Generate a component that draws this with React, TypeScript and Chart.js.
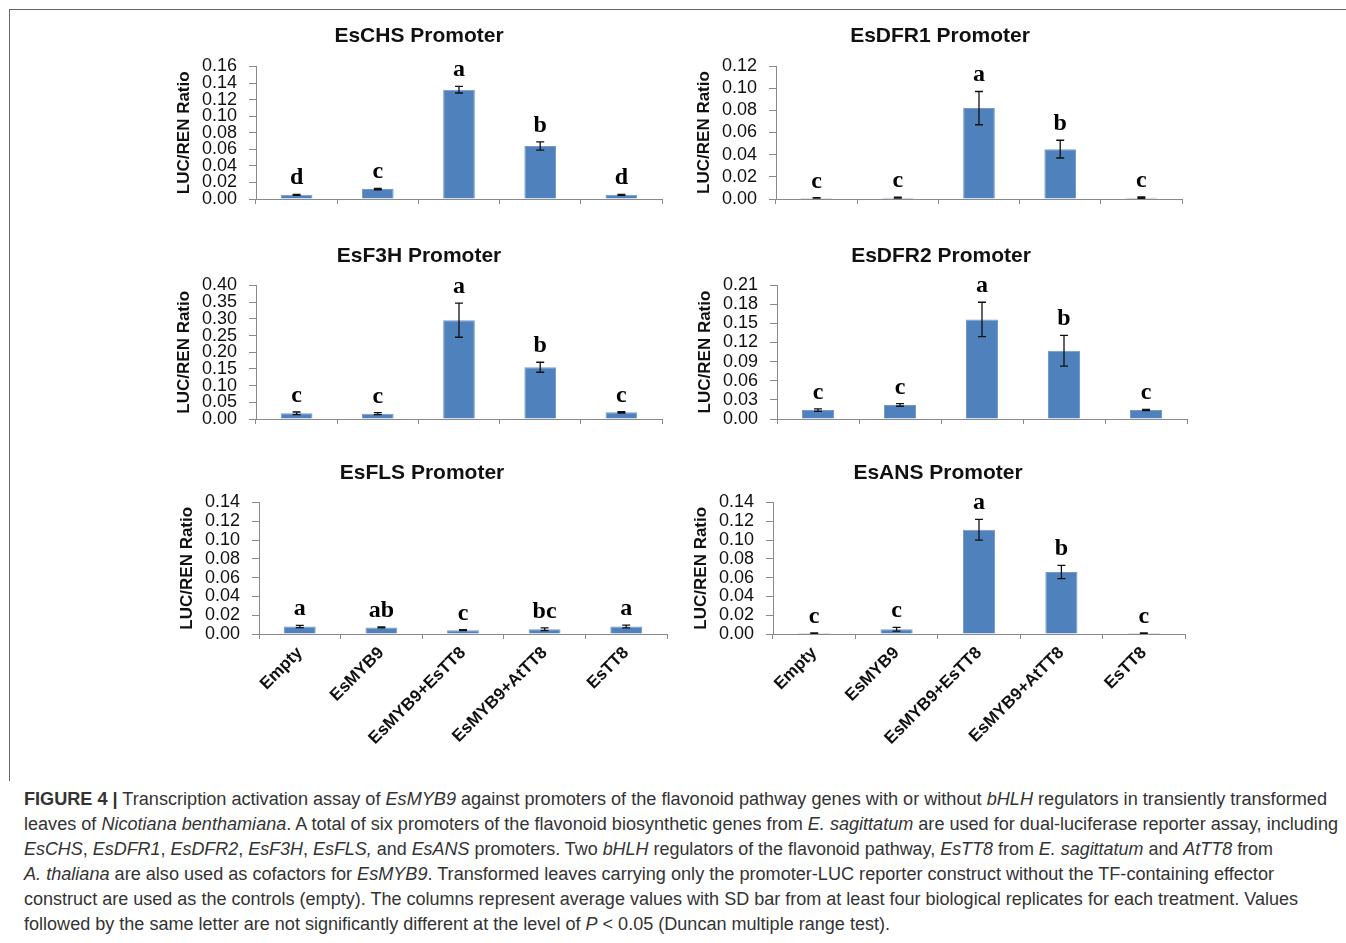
import React, { useEffect, useLayoutEffect, useRef } from "react";
import { Chart, registerables } from "chart.js";
Chart.register(...registerables);

// ---------- data ----------
const categories = ["Empty", "EsMYB9", "EsMYB9+EsTT8", "EsMYB9+AtTT8", "EsTT8"];

const chsMeans = [0.005, 0.012, 0.132, 0.064, 0.005];
const chsSD = [0.0007, 0.0008, 0.004, 0.005, 0.0007];
const chsLetters = ["d", "c", "a", "b", "d"];
const chsAxisMax = 0.16;
const chsAxisStep = 0.02;

const dfr1Means = [0.001, 0.0012, 0.082, 0.045, 0.0012];
const dfr1SD = [0.0003, 0.0005, 0.015, 0.008, 0.0006];
const dfr1Letters = ["c", "c", "a", "b", "c"];
const dfr1AxisMax = 0.12;
const dfr1AxisStep = 0.02;

const f3hMeans = [0.017, 0.016, 0.296, 0.155, 0.02];
const f3hSD = [0.004, 0.003, 0.051, 0.015, 0.002];
const f3hLetters = ["c", "c", "a", "b", "c"];
const f3hAxisMax = 0.4;
const f3hAxisStep = 0.05;

const dfr2Means = [0.014, 0.022, 0.156, 0.107, 0.014];
const dfr2SD = [0.002, 0.002, 0.027, 0.024, 0.001];
const dfr2Letters = ["c", "c", "a", "b", "c"];
const dfr2AxisMax = 0.21;
const dfr2AxisStep = 0.03;

const flsMeans = [0.008, 0.007, 0.004, 0.005, 0.008];
const flsSD = [0.0012, 0.0005, 0.0005, 0.0015, 0.0015];
const flsLetters = ["a", "ab", "c", "bc", "a"];
const flsAxisMax = 0.14;
const flsAxisStep = 0.02;

const ansMeans = [0.001, 0.005, 0.111, 0.066, 0.001];
const ansSD = [0.0003, 0.002, 0.011, 0.007, 0.0003];
const ansLetters = ["c", "c", "a", "b", "c"];
const ansAxisMax = 0.14;
const ansAxisStep = 0.02;

const yAxisTitle = "LUC/REN Ratio";

// ---------- styling ----------
const SANS = 'Arial, "Liberation Sans", Helvetica, sans-serif';
const SERIF = '"Liberation Serif", "Times New Roman", serif';
const AXIS_GRAY = "#8a8a8a";
const BAR_BLUE = "#4F81BD";
const Y_AXIS_W = 106;
const TITLE_SIZE = 21;

type PanelProps = {
  title: string;
  means: number[];
  sd: number[];
  letters: string[];
  yMax: number;
  yStep: number;
  showLabels: boolean;
  chartLeft: number;
  chartRight: number;
  chartTop: number;
  chartBottom: number;
  titleX: number;
  titleY: number;
};

function Panel(p: PanelProps) {
  const ref = useRef<HTMLCanvasElement>(null);
  const titleLH = TITLE_SIZE * 1.2;
  const xAxisH = p.showLabels ? 125 : 26;
  const canvasLeft = p.chartLeft - Y_AXIS_W;
  const width = Math.round(2 * (p.titleX - canvasLeft));
  const rightPad = canvasLeft + width - p.chartRight;
  const canvasTop = Math.round(p.titleY - titleLH / 2);
  const titlePadBottom = p.chartTop - canvasTop - titleLH;
  const height = Math.round(p.chartBottom + xAxisH + 2 - canvasTop);

  useEffect(() => {
    const errPlugin = {
      id: "errLetters",
      afterDatasetsDraw(chart: any) {
        const { ctx } = chart;
        const y = chart.scales.y;
        const meta = chart.getDatasetMeta(0);
        ctx.save();
        meta.data.forEach((bar: any, i: number) => {
          const v = p.means[i];
          const e = p.sd[i];
          const x = bar.x;
          const yTop = y.getPixelForValue(v + e);
          const yBot = y.getPixelForValue(Math.max(v - e, 0));
          ctx.strokeStyle = "#111";
          ctx.lineWidth = 1.3;
          ctx.beginPath();
          ctx.moveTo(x, yTop);
          ctx.lineTo(x, yBot);
          ctx.moveTo(x - 4, yTop);
          ctx.lineTo(x + 4, yTop);
          ctx.moveTo(x - 4, yBot);
          ctx.lineTo(x + 4, yBot);
          ctx.stroke();
          ctx.font = `bold 24px ${SERIF}`;
          ctx.textAlign = "center";
          ctx.textBaseline = "alphabetic";
          ctx.fillStyle = "#000";
          ctx.fillText(p.letters[i], x, yTop - 10);
        });
        ctx.restore();
      },
    };

    const chart = new Chart(ref.current!, {
      type: "bar",
      data: {
        labels: categories,
        datasets: [
          {
            data: p.means,
            backgroundColor: BAR_BLUE,
            borderColor: "#7399C9",
            borderWidth: 1,
            barPercentage: 0.39,
            categoryPercentage: 1,
          },
        ],
      },
      options: {
        animation: false,
        responsive: false,
        maintainAspectRatio: false,
        layout: { padding: { left: 0, right: 0, top: 0, bottom: 2 } },
        plugins: {
          legend: { display: false },
          tooltip: { enabled: false },
          title: {
            display: true,
            text: p.title,
            color: "#111",
            font: { family: SANS, size: TITLE_SIZE, weight: "bold" },
            padding: { top: 0, bottom: titlePadBottom },
          },
        },
        scales: {
          x: {
            grid: {
              offset: true,
              drawOnChartArea: false,
              drawTicks: true,
              tickLength: 5,
              color: AXIS_GRAY,
            },
            border: { color: AXIS_GRAY, width: 1 },
            ticks: {
              display: p.showLabels,
              minRotation: 45,
              maxRotation: 45,
              autoSkip: false,
              padding: 4,
              color: "#111",
              font: { family: SANS, size: 17, weight: "bold" },
            },
            afterFit: (s: any) => {
              s.height = xAxisH;
            },
          },
          y: {
            min: 0,
            max: p.yMax,
            grid: {
              drawOnChartArea: false,
              drawTicks: true,
              tickLength: 7,
              color: AXIS_GRAY,
            },
            border: { color: AXIS_GRAY, width: 1 },
            ticks: {
              stepSize: p.yStep,
              autoSkip: false,
              padding: 12,
              color: "#111",
              font: { family: SANS, size: 18 },
              callback: (v: any) => Number(v).toFixed(2),
            },
            title: {
              display: true,
              text: yAxisTitle,
              color: "#111",
              font: { family: SANS, size: 17, weight: "bold" },
              padding: { top: 24, bottom: 0 },
            },
            afterFit: (s: any) => {
              s.width = Y_AXIS_W;
            },
          },
          spacer: {
            type: "linear",
            position: "right",
            display: true,
            grid: { display: false, drawTicks: false },
            border: { display: false },
            ticks: { display: false },
            afterFit: (s: any) => {
              s.width = rightPad;
            },
          },
        },
      } as any,
      plugins: [errPlugin],
    });
    return () => chart.destroy();
  }, []);

  return (
    <canvas
      ref={ref}
      width={width}
      height={height}
      style={{ position: "absolute", left: canvasLeft, top: canvasTop, width, height }}
    />
  );
}

function FitLine({ top, target, children }: { top: number; target: number; children: any }) {
  const ref = useRef<HTMLDivElement>(null);
  useLayoutEffect(() => {
    const el = ref.current!;
    el.style.transform = "none";
    const w = el.getBoundingClientRect().width;
    if (w > 0) el.style.transform = `scaleX(${target / w})`;
  }, []);
  return (
    <div
      ref={ref}
      style={{
        position: "absolute",
        left: 24,
        top,
        whiteSpace: "nowrap",
        transformOrigin: "0 0",
        fontFamily: SANS,
        fontSize: 18,
        lineHeight: "25px",
        color: "#333",
      }}
    >
      {children}
    </div>
  );
}

export default function App() {
  const capTop = 787;
  return (
    <div style={{ position: "absolute", left: 0, top: 0, width: 1346, height: 943, background: "#fff", overflow: "hidden" }}>
      <div
        style={{
          position: "absolute",
          left: 9,
          top: 9,
          width: 1345,
          height: 771,
          borderTop: "1px solid #666",
          borderLeft: "1px solid #666",
        }}
      />
      <Panel title="EsCHS Promoter" means={chsMeans} sd={chsSD} letters={chsLetters} yMax={chsAxisMax} yStep={chsAxisStep}
        showLabels={false} chartLeft={256} chartRight={662} chartTop={66.5} chartBottom={199} titleX={419} titleY={37} />
      <Panel title="EsDFR1 Promoter" means={dfr1Means} sd={dfr1SD} letters={dfr1Letters} yMax={dfr1AxisMax} yStep={dfr1AxisStep}
        showLabels={false} chartLeft={776} chartRight={1182} chartTop={66} chartBottom={199} titleX={940} titleY={37} />
      <Panel title="EsF3H Promoter" means={f3hMeans} sd={f3hSD} letters={f3hLetters} yMax={f3hAxisMax} yStep={f3hAxisStep}
        showLabels={false} chartLeft={256} chartRight={662} chartTop={285.5} chartBottom={419} titleX={419} titleY={257} />
      <Panel title="EsDFR2 Promoter" means={dfr2Means} sd={dfr2SD} letters={dfr2Letters} yMax={dfr2AxisMax} yStep={dfr2AxisStep}
        showLabels={false} chartLeft={777} chartRight={1187} chartTop={285} chartBottom={419} titleX={941} titleY={257} />
      <Panel title="EsFLS Promoter" means={flsMeans} sd={flsSD} letters={flsLetters} yMax={flsAxisMax} yStep={flsAxisStep}
        showLabels={true} chartLeft={259} chartRight={667} chartTop={502.5} chartBottom={634} titleX={422} titleY={474} />
      <Panel title="EsANS Promoter" means={ansMeans} sd={ansSD} letters={ansLetters} yMax={ansAxisMax} yStep={ansAxisStep}
        showLabels={true} chartLeft={773} chartRight={1185} chartTop={502.5} chartBottom={634} titleX={938} titleY={474} />

      <FitLine top={capTop} target={1303}>
        <b>FIGURE 4 |</b> Transcription activation assay of <i>EsMYB9</i> against promoters of the flavonoid pathway genes with or without <i>bHLH</i> regulators in transiently transformed
      </FitLine>
      <FitLine top={capTop + 25} target={1314}>
        leaves of <i>Nicotiana benthamiana</i>. A total of six promoters of the flavonoid biosynthetic genes from <i>E. sagittatum</i> are used for dual-luciferase reporter assay, including
      </FitLine>
      <FitLine top={capTop + 50} target={1249}>
        <i>EsCHS</i>, <i>EsDFR1</i>, <i>EsDFR2</i>, <i>EsF3H</i>, <i>EsFLS,</i> and <i>EsANS</i> promoters. Two <i>bHLH</i> regulators of the flavonoid pathway, <i>EsTT8</i> from <i>E. sagittatum</i> and <i>AtTT8</i> from
      </FitLine>
      <FitLine top={capTop + 75} target={1250}>
        <i>A. thaliana</i> are also used as cofactors for <i>EsMYB9</i>. Transformed leaves carrying only the promoter-LUC reporter construct without the TF-containing effector
      </FitLine>
      <FitLine top={capTop + 100} target={1274}>
        construct are used as the controls (empty). The columns represent average values with SD bar from at least four biological replicates for each treatment. Values
      </FitLine>
      <FitLine top={capTop + 125} target={866}>
        followed by the same letter are not significantly different at the level of <i>P</i> &lt; 0.05 (Duncan multiple range test).
      </FitLine>
    </div>
  );
}
